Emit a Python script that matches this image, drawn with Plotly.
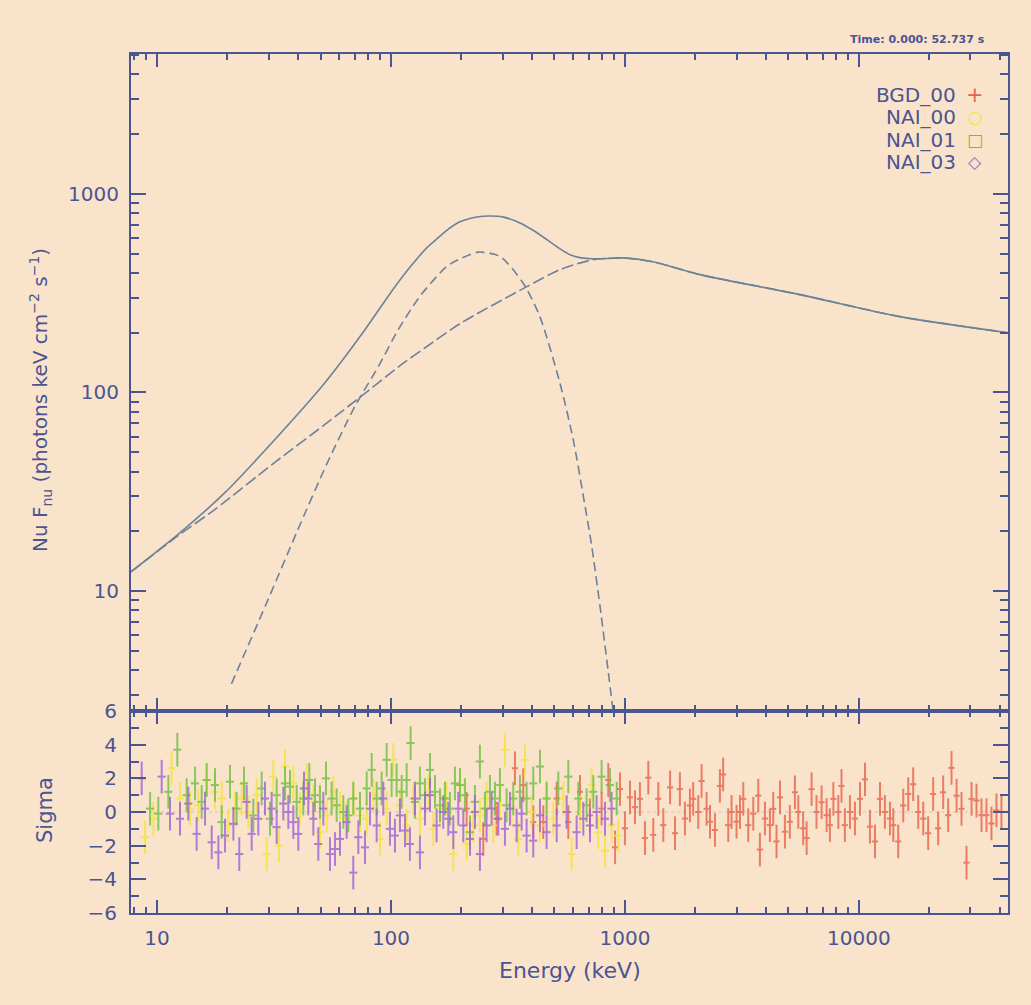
import math
import plotly.graph_objects as go

# ---------------- model curves ----------------
total_e = [7.74, 12.3, 19.5, 31.9, 52.2, 77.4, 102, 120, 142.5, 155, 170, 197, 233, 265, 300, 356,
           410, 464, 520, 582, 650, 730, 850, 980, 1318, 2094, 5600, 14960, 43350]
total_f = [12.5, 19.3, 31.3, 58, 112, 207, 330, 424, 536, 585, 644, 723, 765, 774, 766, 714,
           650, 588, 535, 494, 476, 471, 473, 476, 455, 392, 311, 241, 200]

comp1_e = [20.8, 29.9, 39.5, 53.1, 70.2, 88.3, 107.4, 133, 173, 197, 236, 292.5, 367, 433, 527,
           601, 664, 721, 782, 849, 891]
comp1_f = [3.41, 9.12, 19.7, 43.5, 85.3, 135, 207, 305, 431, 470, 509, 484, 356, 241, 112,
           58, 30.1, 16.9, 8.45, 3.91, 2.46]

comp2_e = [7.74, 12.3, 17.7, 31.9, 52.2, 77.4, 112.5, 140, 197, 381, 527, 730, 980, 1318, 2094,
           5600, 14960, 43350]
comp2_f = [12.5, 19.0, 25.8, 44.5, 69, 99, 140, 168, 222, 341, 415, 466, 476, 455, 392,
           311, 241, 200]

# ---------------- residuals (sigma) ----------------
bgd_e = [210.6, 248.0, 282.8, 338.8, 367.7, 405.7, 447.7, 511, 572.9, 642.7, 709, 795, 849, 907.8,
         953, 1000, 1051, 1104, 1159, 1218, 1259, 1322, 1389, 1459,
         1560, 1637, 1718, 1805, 1896, 1958, 2058, 2127, 2234, 2310,
         2426, 2547, 2630, 2765, 2856, 3000, 3103, 3206, 3366, 3537,
         3715, 3776, 3967, 4167, 4305, 4447, 4600, 4830, 5070, 5330,
         5510, 5780, 5980, 6280, 6590, 6930, 7280, 7520, 7780, 8170,
         8430, 8710, 9160, 9620, 10110, 10620, 11150, 11720, 12310, 12920,
         13580, 14030, 14730, 15480, 16260, 17070, 17940, 18840, 19780, 20780,
         21830, 22930, 24080, 24890, 26160, 27470, 28850, 30310, 31830, 33430,
         35120, 36880, 38740, 40690]
bgd_s = [0.2, -1.6, -0.4, 2.6, 1.6, -0.6, -0.6, 0.8, -0.6, 1.2, -0.2, 0.2, 1.9, -2.1,
         1.36, -0.97, 0.87, 0.29, 0.78, -1.55, 2.04, -1.36, 0.78, -0.78,
         1.46, -1.26, 1.36, -0.39, 0.39, 0.78, 0, 1.84, 0.19, -0.58,
         -1.07, 1.55, 2.23, -0.78, 0, -0.58, 0, 0.78, -0.78, -0.1,
         0.97, -2.23, -0.39, -0.78, 0.19, -1.75, 0.87, -1.17, -0.58, 1.17,
         0, -0.97, -1.55, 1.36, 0, 0.58, -0.19, -0.78, 0.78, 0,
         1.55, -0.78, 0, -0.39, 0.78, 1.94, -0.87, -1.75, 0.78, 0,
         -0.39, -0.78, -1.75, 0.39, 1.07, 1.65, 0, -0.39, -1.26, 1.07,
         -0.97, 1.17, -0.19, 2.62, 0.97, 0.19, -3.01, 0.78, 0.68, -0.19,
         -0.19, -0.68, 0.1, 0]

nai00_e = [8.89, 9.65, 11.55, 12.54, 13.84, 15.02, 16.30, 17.69, 18.90, 20.17,
           21.54, 23.00, 24.56, 26.66, 29.42, 31.42, 33.21, 35.24, 38.24, 40.84,
           43.61, 46.57, 49.73, 53.09, 56.69, 60.53, 64.64, 69.02, 73.72, 78.71,
           84.07, 89.74, 95.83, 102.33, 109.2, 116.7, 124.6, 133.0, 144.4, 151.7,
           162.0, 172.9, 184.7, 197.2, 210.6, 224.8, 240.0, 256.3, 273.7, 292.3,
           307.0, 327.8, 350.1, 373.8, 399.1, 433.4, 462.7, 494.5, 545.5, 591.9,
           642.7, 720.4, 769.6, 821.8, 877, 937.6]
nai00_s = [-1.5, -0.4, 2.6, 0.8, 0.2, 0.4, 1.9, 1.2, 0.8, -0.8,
           0.2, 0.8, 0, 1.0, -2.5, 2.1, -2.0, 2.7, 1.7, 0.2,
           1.9, 0.6, -1.2, -0.2, 1.2, 0.2, -0.4, 0.8, -0.2, -0.4,
           1.0, -1.6, 0.2, 3.1, 0.4, -0.8, 0.8, -0.4, 1.2, -1.0,
           0.2, 0.8, -2.5, 1.6, -1.9, -0.8, -0.2, 0.8, -0.8, 0.4,
           3.7, 0.2, -1.6, 3.1, 0, -0.8, 0.8, -0.4, 0.8, -2.5,
           0, 1.6, -1.2, -2.3, -0.8, -1.4]

nai01_e = [9.34, 10.13, 11.18, 12.21, 13.39, 14.54, 15.52, 16.30, 17.69, 18.90,
           20.51, 21.89, 23.54, 25.80, 28.01, 30.40, 32.46, 35.24, 37.02, 39.53,
           42.20, 44.77, 47.34, 49.73, 52.75, 55.77, 58.59, 62.56, 65.71, 69.02,
           73.72, 78.71, 82.71, 86.87, 91.23, 95.83, 100.65, 105.7, 111.1, 116.7,
           121.3, 126.6, 133.0, 139.8, 146.8, 154.2, 162.0, 170.1, 178.7, 187.7,
           197.2, 207.1, 217.6, 228.5, 240.0, 252.1, 264.9, 278.3, 292.3, 312.1,
           333.3, 355.9, 380.0, 405.7, 433.4, 462.7, 519, 572.9, 632.4, 686,
           732.8, 795, 863, 922.6]
nai01_s = [0.2, -0.1, 1.2, 3.7, 1.0, 1.7, 0.6, 1.9, 1.6, -0.6,
           1.8, 0.2, 1.7, -0.2, 1.4, -0.4, 1.0, 1.7, 1.5, 0.6,
           0.8, 1.9, 1.0, 0.6, 2.0, 0.8, 0.4, 0, -0.2, 0.8,
           0.2, 1.4, 2.5, 0.8, 1.4, 3.1, 1.9, 1.9, 1.2, 1.9,
           4.1, 0.6, 1.7, 1.0, 2.5, 1.2, 0.4, 0.8, 0.2, 1.7,
           1.6, 1.0, -1.2, 0.6, 3.0, 0.2, 1.2, 0.8, 1.6, 0.4,
           0.8, 1.2, 0.8, 1.7, 2.7, 0.8, 1.4, 2.1, 0.8, 0.4,
           1.2, 2.1, 1.6, 0.8]

nai03_e = [8.60, 10.47, 11.36, 12.54, 13.61, 14.77, 16.04, 17.13, 18.29, 19.53,
           21.20, 22.47, 24.16, 25.38, 27.10, 28.94, 30.90, 32.46, 34.67, 36.41,
           38.24, 40.18, 42.48, 44.33, 46.57, 48.92, 51.38, 54.86, 57.63, 60.53,
           64.64, 69.02, 72.52, 77.45, 81.35, 86.87, 92.73, 99.01, 104.0, 109.2,
           114.8, 120.5, 126.6, 133.0, 139.8, 146.8, 156.7, 167.3, 175.8, 184.7,
           194.0, 203.8, 217.6, 228.5, 240.0, 256.3, 269.3, 287.5, 307.0, 322.5,
           344.4, 361.8, 380.0, 405.7, 433.4, 462.7, 511, 563.6, 621.8, 664,
           709, 757, 821.8, 877]
nai03_s = [2.0, 2.1, -0.1, -0.4, 0.5, -1.3, 0.2, -1.8, -2.4, -1.4,
           -0.7, -2.5, 0.6, -1.3, -0.4, 0.8, 0.2, -0.9, 0.5, 0,
           -0.6, -1.3, 1.4, 0.8, -0.4, -1.9, 0.2, -2.5, -2.2, -1.6,
           -0.6, -3.6, -1.5, -2.1, 0.2, -0.8, 0.8, -1.0, -1.4, -0.2,
           -1.1, -1.9, 0.8, -2.4, 0.2, 1.0, -0.8, 0, -0.4, -1.2,
           0.2, -0.8, -1.6, 0, -2.5, -0.8, 0.2, -0.4, -1.0, 0.2,
           -0.8, -0.1, -1.4, -1.7, -0.2, -1.2, -0.8, 0, -1.2, -0.4,
           -0.8, 0, -0.4, 0.2]

legend_names = ["BGD_00", "NAI_00", "NAI_01", "NAI_03"]
legend_syms = ["+", "○", "□", "◇"]

x_major = [10, 100, 1000, 10000]
y_major = [10, 100, 1000]
s_major = [-6, -4, -2, 0, 2, 4, 6]
s_minor = [-5, -3, -1, 1, 3, 5]

# ---------------- style ----------------
BG = "#FAE3CB"
AX = "#4A5592"
CURVE = "#6D8299"
RED = "#E8634B"
YEL = "#F4E43A"
GRN = "#6DBF45"
PUR = "#9D62D8"
FONT = "DejaVu Sans"

W, H = 1031, 1005
L, R, T, B = 131, 1008, 54, 913
split = 711
pw, ph = R - L, B - T


def px(xp):
    return (xp - L) / pw


def py(yp):
    return (B - yp) / ph


x_minor = [m * 10 ** d for d in range(0, 5) for m in range(2, 10) if 7.74 < m * 10 ** d < 43400]
y_minor = [m * 10 ** d for d in range(0, 4) for m in range(2, 10) if 2.49 < m * 10 ** d < 5060]

fig = go.Figure()

# model curves
fig.add_trace(go.Scatter(x=comp2_e, y=comp2_f, mode="lines", xaxis="x", yaxis="y",
                         line=dict(color=CURVE, width=1.6, dash="12px,4px", shape="spline", smoothing=0.7)))
fig.add_trace(go.Scatter(x=comp1_e, y=comp1_f, mode="lines", xaxis="x", yaxis="y",
                         line=dict(color=CURVE, width=1.6, dash="9px,5px", shape="spline", smoothing=0.7)))
fig.add_trace(go.Scatter(x=total_e, y=total_f, mode="lines", xaxis="x", yaxis="y",
                         line=dict(color=CURVE, width=1.6, shape="spline", smoothing=0.7)))


def resid(e, s, color, pct):
    assert len(e) == len(s)
    return go.Scatter(
        x=e, y=s, mode="markers", xaxis="x2", yaxis="y2", opacity=0.8,
        marker=dict(size=1, color=color),
        error_y=dict(type="constant", value=1.0, color=color, thickness=2, width=0),
        error_x=dict(type="percent", value=pct, color=color, thickness=2, width=0),
    )


fig.add_trace(resid(bgd_e, bgd_s, RED, 3))
fig.add_trace(resid(nai00_e, nai00_s, YEL, 4))
fig.add_trace(resid(nai01_e, nai01_s, GRN, 4))
fig.add_trace(resid(nai03_e, nai03_s, PUR, 4))

xr = [math.log10(7.74), math.log10(43400)]
common_x = dict(type="log", range=xr, showgrid=False, zeroline=False, showline=True,
                linewidth=2, linecolor=AX, mirror="allticks", ticks="inside", ticklen=13,
                tickwidth=2, tickcolor=AX, tickmode="array", tickvals=x_major,
                minor=dict(tickmode="array", tickvals=x_minor, ticks="inside", ticklen=6,
                           tickwidth=1.5, tickcolor=AX))

dom_split = py(split)

fig.update_layout(
    width=W, height=H,
    paper_bgcolor=BG, plot_bgcolor=BG,
    margin=dict(l=L, r=W - R, t=T, b=H - B),
    showlegend=False,
    font=dict(family=FONT, color=AX, size=20),
    xaxis=dict(common_x, domain=[0, 1], anchor="y", showticklabels=False),
    yaxis=dict(type="log", domain=[dom_split, 1], anchor="x",
               range=[math.log10(2.49), math.log10(5060)],
               showgrid=False, zeroline=False, showline=True, linewidth=2, linecolor=AX,
               mirror="allticks", ticks="inside", ticklen=15, tickwidth=2, tickcolor=AX,
               tickmode="array", tickvals=y_major, ticktext=[str(v) for v in y_major],
               ticklabelstandoff=6, tickfont=dict(size=20, color=AX, family=FONT),
               minor=dict(tickmode="array", tickvals=y_minor, ticks="inside", ticklen=8,
                          tickwidth=1.5, tickcolor=AX)),
    xaxis2=dict(common_x, domain=[0, 1], anchor="y2", matches="x", showticklabels=True,
                ticktext=[str(v) for v in x_major], ticklabelstandoff=6,
                tickfont=dict(size=20, color=AX, family=FONT)),
    yaxis2=dict(domain=[0, dom_split], anchor="x2", range=[-6, 6],
                showgrid=False, zeroline=False, showline=True, linewidth=2, linecolor=AX,
                mirror="allticks", ticks="inside", ticklen=15, tickwidth=2, tickcolor=AX,
                tickmode="array", tickvals=s_major, ticklabelstandoff=8,
                tickfont=dict(size=20, color=AX, family=FONT),
                minor=dict(tickmode="array", tickvals=s_minor, ticks="inside", ticklen=8,
                           tickwidth=1.5, tickcolor=AX)),
)

# dotted zero line in residual panel
fig.add_shape(type="line", xref="x2 domain", x0=0, x1=1, yref="y2", y0=0, y1=0,
              line=dict(color="#C9C3C0", width=1, dash="dot"), layer="below")

ann = []
ann.append(dict(x=px(40), y=py(400), xref="paper", yref="paper", textangle=-90,
                xanchor="center", yanchor="middle",
                text="Nu F<sub>nu</sub> (photons keV cm<sup>−2</sup> s<sup>−1</sup>)",
                showarrow=False, font=dict(size=20, color=AX, family=FONT)))
ann.append(dict(x=px(45), y=py(810), xref="paper", yref="paper", textangle=-90,
                xanchor="center", yanchor="middle",
                text="Sigma", showarrow=False, font=dict(size=21, color=AX, family=FONT)))
ann.append(dict(x=0.5, y=py(970), xref="paper", yref="paper", text="Energy (keV)",
                xanchor="center", yanchor="middle",
                showarrow=False, font=dict(size=22, color=AX, family=FONT)))
ann.append(dict(x=px(917), y=py(40), xref="paper", yref="paper",
                xanchor="center", yanchor="middle",
                text="<b>Time: 0.000: 52.737 s</b>", showarrow=False,
                font=dict(size=11, color=AX, family=FONT)))

leg_colors = [RED, YEL, GRN, PUR]
leg_y = [95, 117, 140, 162]
for name, sym, col, yy in zip(legend_names, legend_syms, leg_colors, leg_y):
    ann.append(dict(x=px(958), y=py(yy), xref="paper", yref="paper", text=name,
                    xanchor="right", yanchor="middle", showarrow=False,
                    font=dict(size=20, color=AX, family=FONT)))
    ann.append(dict(x=px(975), y=py(yy), xref="paper", yref="paper", text=sym,
                    xanchor="center", yanchor="middle", showarrow=False,
                    font=dict(size=21 if sym == "+" else 17, color=col, family=FONT)))

fig.update_layout(annotations=ann)

fig.write_html("out.html")
